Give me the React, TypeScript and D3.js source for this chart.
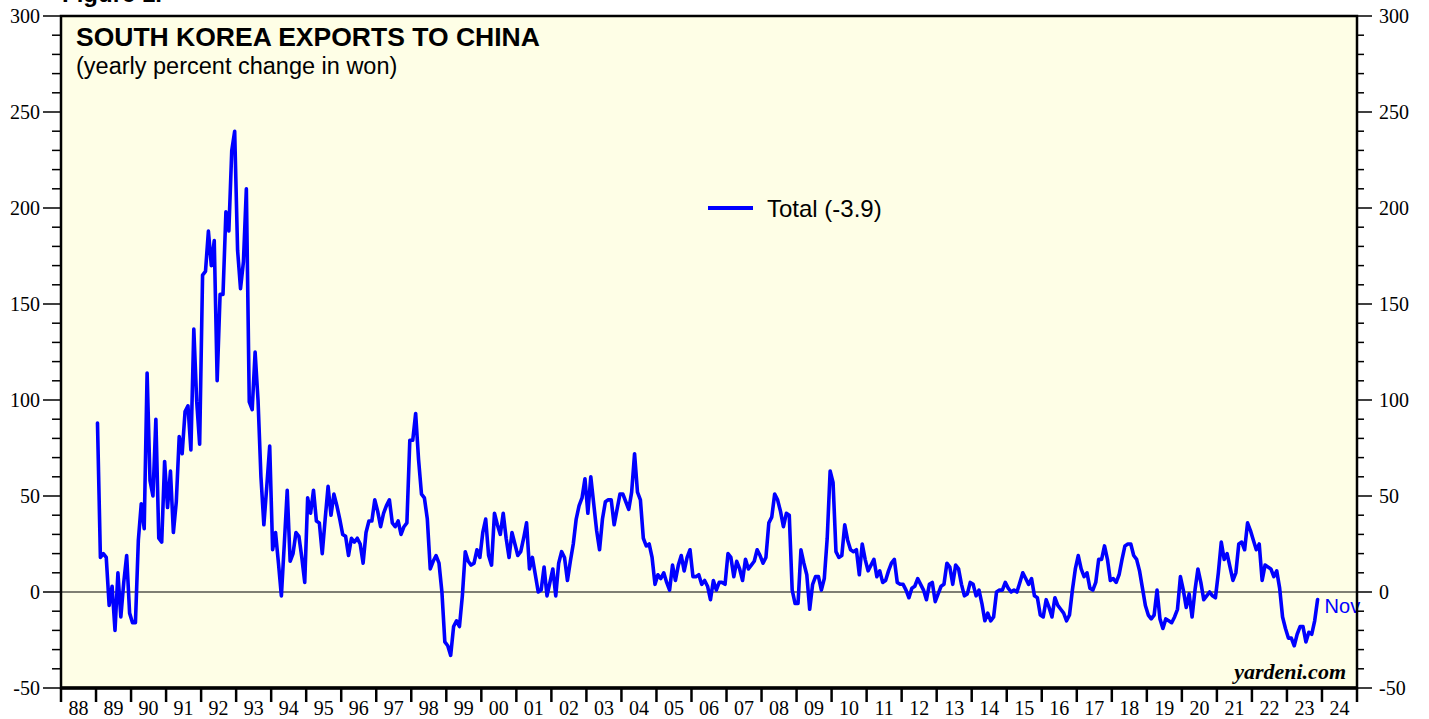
import React from "react";
import * as d3 from "d3";

const width = 1429;
const height = 719;

// x axis labels (one per calendar year, 1988..2024)
const yearLabels = [
  "88", "89", "90", "91", "92", "93", "94", "95", "96", "97", "98", "99",
  "00", "01", "02", "03", "04", "05", "06", "07", "08", "09", "10", "11",
  "12", "13", "14", "15", "16", "17", "18", "19", "20", "21", "22", "23", "24",
];
const yTicks = [-50, 0, 50, 100, 150, 200, 250, 300];

const seriesName = "Total";
const lastMonthLabel = "Nov";
const firstYear = 1989;

// South Korea exports to China, yearly % change in won, monthly from Jan 1989
const totalChange = [
  88, 18, 20, 18, -7, 3, -20, 10, -13, 5, 19, -11, // 89
  -16, -16, 27, 46, 33, 114, 58, 50, 90, 28, 26, 68, // 90
  44, 63, 31, 47, 81, 72, 94, 97, 74, 137, 99, 77, // 91
  165, 167, 188, 170, 183, 110, 155, 155, 198, 188, 230, 240, // 92
  178, 158, 172, 210, 99, 95, 125, 100, 60, 35, 55, 76, // 93
  22, 31, 15, -2, 25, 53, 16, 20, 31, 29, 18, 5, // 94
  49, 41, 53, 37, 36, 20, 38, 55, 40, 51, 45, 38, // 95
  30, 29, 19, 28, 26, 28, 25, 15, 31, 37, 37, 48, // 96
  42, 34, 41, 45, 48, 36, 34, 37, 30, 34, 36, 79, // 97
  79, 93, 69, 51, 49, 38, 12, 16, 19, 15, 0, -26, // 98
  -28, -33, -18, -15, -18, -2, 21, 16, 14, 15, 22, 18, // 99
  31, 38, 19, 14, 41, 35, 30, 41, 28, 18, 31, 25, // 00
  19, 21, 28, 36, 12, 18, 9, 0, 1, 13, -2, 5, // 01
  12, -2, 15, 21, 18, 6, 16, 25, 38, 45, 49, 59, // 02
  41, 60, 46, 32, 22, 38, 47, 48, 48, 35, 43, 51, // 03
  51, 47, 43, 52, 72, 52, 48, 28, 24, 25, 18, 4, // 04
  9, 7, 10, 5, 1, 14, 6, 14, 19, 11, 18, 22, // 05
  8, 8, 9, 4, 6, 3, -4, 6, 1, 5, 5, 4, // 06
  20, 18, 8, 16, 12, 6, 17, 12, 14, 16, 22, 19, // 07
  15, 18, 36, 39, 51, 48, 42, 34, 41, 40, 1, -6, // 08
  -6, 22, 15, 9, -9, 4, 8, 8, 1, 7, 28, 63, // 09
  57, 21, 18, 19, 35, 27, 22, 21, 22, 9, 25, 17, // 10
  11, 14, 17, 8, 11, 5, 6, 11, 15, 17, 5, 4, // 11
  4, 1, -3, 2, 3, 7, 4, 1, -4, 4, 5, -5, // 12
  -1, 3, 4, 15, 13, 4, 14, 12, 4, -2, -1, 5, // 13
  4, -2, 1, -6, -15, -11, -15, -13, 0, 1, 1, 5, // 14
  2, 0, 1, 0, 5, 10, 7, 4, 7, -2, -3, -12, // 15
  -13, -4, -8, -13, -3, -7, -9, -11, -15, -12, 1, 12, // 16
  19, 12, 8, 10, 2, 1, 5, 17, 17, 24, 17, 6, // 17
  7, 5, 9, 17, 24, 25, 25, 19, 17, 11, 2, -7, // 18
  -12, -14, -12, 1, -14, -19, -14, -15, -16, -13, -9, 8, // 19
  1, -8, -1, -13, 1, 12, 5, -4, -2, 0, -2, -3, // 20
  10, 26, 17, 20, 13, 6, 10, 25, 26, 22, 36, 32, // 21
  27, 22, 25, 6, 14, 13, 12, 8, 11, 2, -13, -19, // 22
  -24, -24, -28, -22, -18, -18, -26, -21, -22, -15, -3.9, // 23
];

const plot = { left: 61, right: 1357, top: 16, bottom: 688 };
const sans = "Arial, Liberation Sans, sans-serif";
const serif = "Liberation Serif, Times New Roman, serif";

export default function App() {
  const x = d3.scaleLinear().domain([1988, 2025]).range([plot.left, plot.right]);
  const y = d3.scaleLinear().domain([-50, 300]).range([plot.bottom, plot.top]);

  const line = d3
    .line<number>()
    .x((_, i) => x(firstYear + (i + 0.5) / 12))
    .y((d) => y(d));

  const minorTicks = d3.range(-50, 301, 10).filter((v) => v % 50 !== 0);
  const yearEdges = d3.range(1988, 2026);
  const last = totalChange[totalChange.length - 1];
  const lastX = x(firstYear + (totalChange.length - 0.5) / 12);

  return (
    <svg
      width={width}
      height={height}
      style={{ position: "absolute", left: 0, top: 0, background: "#fff" }}
    >
      <text x={62} y={2} fontFamily={sans} fontWeight="bold" fontSize={24} fill="#000">
        Figure 1.
      </text>
      <rect
        x={plot.left}
        y={plot.top}
        width={plot.right - plot.left}
        height={plot.bottom - plot.top}
        fill="#FEFEE6"
      />

      {/* zero line */}
      <line x1={plot.left} x2={plot.right} y1={y(0)} y2={y(0)} stroke="#000" strokeWidth={1.2} />

      {/* series */}
      <path
        d={line(totalChange) ?? ""}
        fill="none"
        stroke="#0000FF"
        strokeWidth={3.6}
        strokeLinejoin="round"
        strokeLinecap="round"
      />

      <text x={lastX + 7} y={y(last) + 14} fill="#0000FF" fontFamily={sans} fontSize={20}>
        {lastMonthLabel}
      </text>

      {/* frame */}
      <rect
        x={plot.left}
        y={plot.top}
        width={plot.right - plot.left}
        height={plot.bottom - plot.top}
        fill="none"
        stroke="#000"
        strokeWidth={2.5}
      />
      <line x1={plot.left - 1} x2={plot.right + 1} y1={plot.bottom} y2={plot.bottom} stroke="#000" strokeWidth={3.5} />

      {/* y axis ticks and labels, both sides */}
      {yTicks.map((v) => (
        <g key={`yt${v}`}>
          <line x1={plot.left - 18} x2={plot.left} y1={y(v)} y2={y(v)} stroke="#000" strokeWidth={1.5} />
          <line x1={plot.right} x2={plot.right + 15} y1={y(v)} y2={y(v)} stroke="#000" strokeWidth={1.5} />
          <text x={40} y={y(v)} textAnchor="end" dominantBaseline="central" fontFamily={serif} fontSize={20}>
            {v}
          </text>
          <text x={1379} y={y(v)} textAnchor="start" dominantBaseline="central" fontFamily={serif} fontSize={20}>
            {v}
          </text>
        </g>
      ))}
      {minorTicks.map((v) => (
        <g key={`ym${v}`}>
          <line x1={plot.left - 9} x2={plot.left} y1={y(v)} y2={y(v)} stroke="#000" strokeWidth={1.5} />
          <line x1={plot.right} x2={plot.right + 7} y1={y(v)} y2={y(v)} stroke="#000" strokeWidth={1.5} />
        </g>
      ))}

      {/* x axis */}
      {yearEdges.map((yr) => (
        <line
          key={`xt${yr}`}
          x1={x(yr)}
          x2={x(yr)}
          y1={plot.bottom}
          y2={plot.bottom + 14}
          stroke="#000"
          strokeWidth={2.5}
        />
      ))}
      {yearLabels.map((lab, i) => (
        <text
          key={`xl${lab}`}
          x={x(1988 + i + 0.5)}
          y={715}
          textAnchor="middle"
          fontFamily={serif}
          fontSize={20}
        >
          {lab}
        </text>
      ))}

      {/* title */}
      <text x={76} y={46} fontFamily={sans} fontWeight="bold" fontSize={26.5} fill="#000">
        SOUTH KOREA EXPORTS TO CHINA
      </text>
      <text x={76} y={74} fontFamily={sans} fontSize={23.5} fill="#000">
        (yearly percent change in won)
      </text>

      {/* legend */}
      <line x1={708} x2={753} y1={208} y2={208} stroke="#0000FF" strokeWidth={4} />
      <text x={767} y={217} fontFamily={sans} fontSize={24} fill="#000">
        {`${seriesName} (${last.toFixed(1)})`}
      </text>

      <text
        x={1346}
        y={679}
        textAnchor="end"
        fontFamily={serif}
        fontWeight="bold"
        fontStyle="italic"
        fontSize={22}
      >
        yardeni.com
      </text>
    </svg>
  );
}
